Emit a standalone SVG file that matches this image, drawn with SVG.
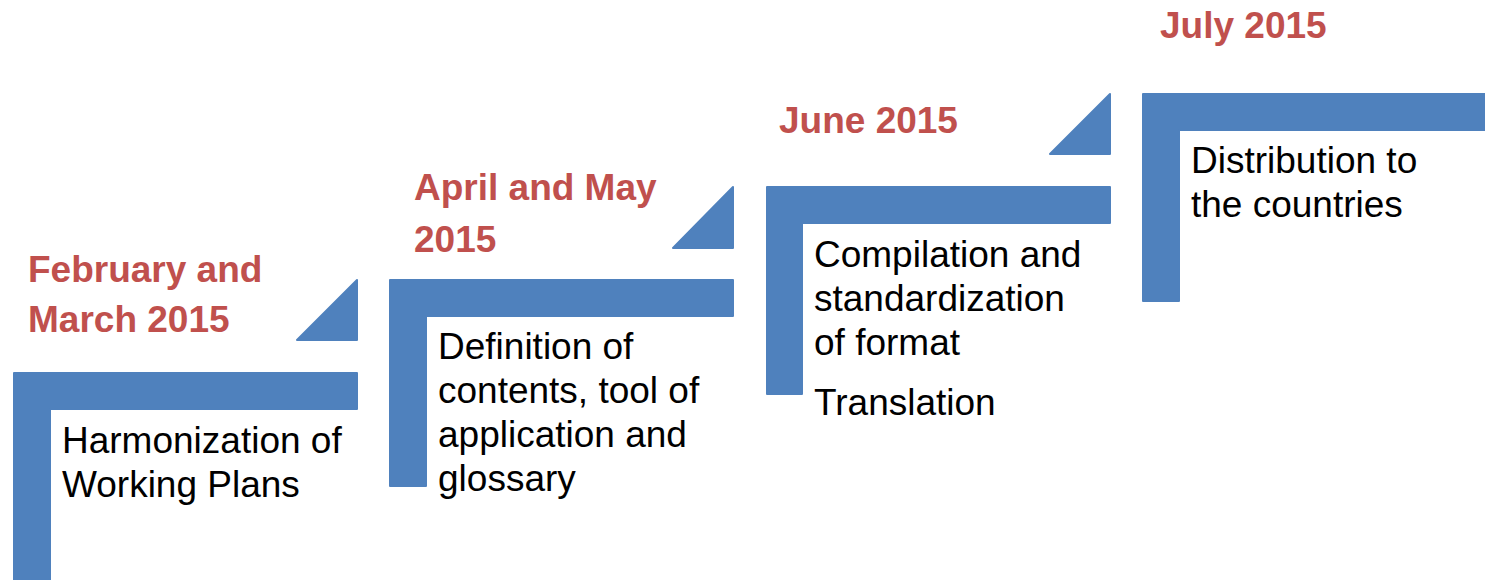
<svg xmlns="http://www.w3.org/2000/svg" width="1485" height="580" viewBox="0 0 1485 580">
<style>
.shape{fill:#4F81BD;stroke:#4F81BD;stroke-width:2;stroke-linejoin:round}
.date{font-family:"Liberation Sans",Arial,sans-serif;font-weight:bold;font-size:37px;fill:#C0504D}
.body{font-family:"Liberation Sans",Arial,sans-serif;font-size:37px;fill:#000}
</style>
<rect width="1485" height="580" fill="#fff"/>
<g id="step1">
<path class="shape" d="M14,373 H357 V409 H50 V580 H14 Z"/>
<path class="shape" d="M297,340 L357,280 V340 Z"/>
<text class="date" x="28" y="282">February and</text>
<text class="date" x="28" y="332">March 2015</text>
<text class="body" x="62" y="453">Harmonization of</text>
<text class="body" x="62" y="497">Working Plans</text>
</g>
<g id="step2">
<path class="shape" d="M390,280 H733 V316 H426 V486 H390 Z"/>
<path class="shape" d="M673,248 L733,187 V248 Z"/>
<text class="date" x="414" y="200">April and May</text>
<text class="date" x="414" y="252">2015</text>
<text class="body" x="438" y="359">Definition of</text>
<text class="body" x="438" y="403">contents, tool of</text>
<text class="body" x="438" y="447">application and</text>
<text class="body" x="438" y="491">glossary</text>
</g>
<g id="step3">
<path class="shape" d="M767,187 H1110 V223 H802 V394 H767 Z"/>
<path class="shape" d="M1050,154 L1110,94 V154 Z"/>
<text class="date" x="779" y="133">June 2015</text>
<text class="body" x="814" y="267">Compilation and</text>
<text class="body" x="814" y="311">standardization</text>
<text class="body" x="814" y="355">of format</text>
<text class="body" x="814" y="415">Translation</text>
</g>
<g id="step4">
<path class="shape" d="M1143,94 H1486 V130 H1179 V301 H1143 Z"/>
<text class="date" x="1160" y="38">July 2015</text>
<text class="body" x="1191" y="173">Distribution to</text>
<text class="body" x="1191" y="217">the countries</text>
</g>
<g id="connectors"></g>
</svg>
